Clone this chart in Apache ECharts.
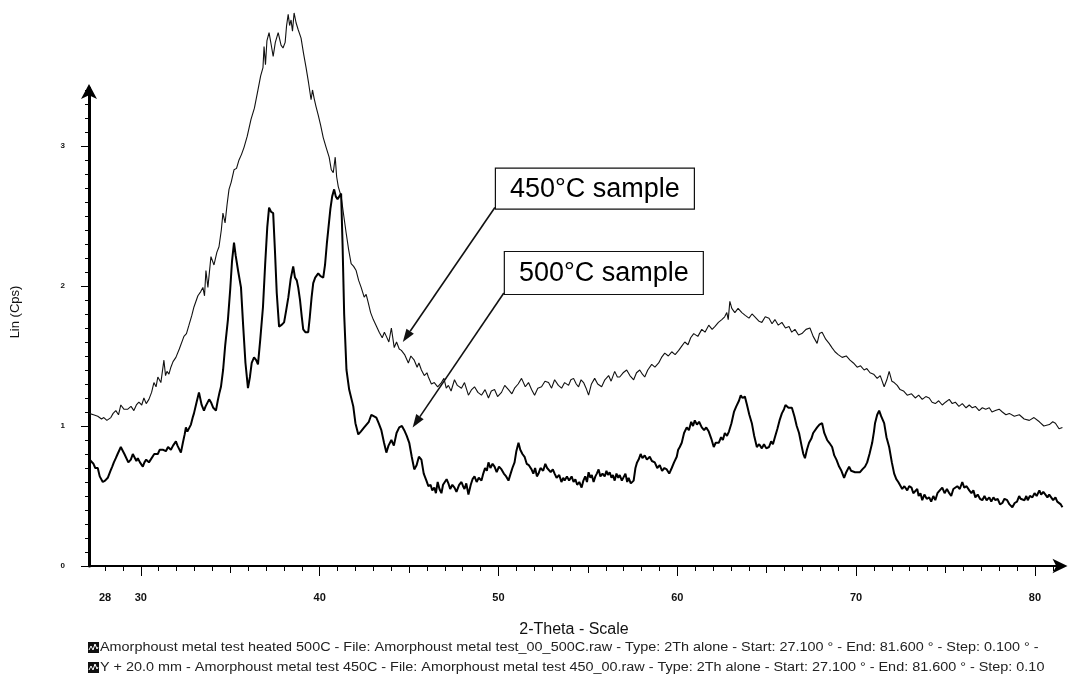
<!DOCTYPE html>
<html>
<head>
<meta charset="utf-8">
<script src="https://cdn.jsdelivr.net/npm/echarts@6/dist/echarts.min.js"></script>
<style>
  html, body { margin: 0; padding: 0; background: #ffffff; }
  #chart { width: 1070px; height: 681px; }
</style>
</head>
<body>
<div id="chart"></div>
<script>
// [2-Theta (deg), intensity] for the sample annealed at 500 °C
const scan500 = [
  [27.1,0.77],[27.2,0.75],[27.35,0.73],[27.45,0.70],[27.59,0.70],[27.7,0.64],[27.87,0.60],[28.0,0.61],[28.15,0.63],[28.3,0.68],
  [28.4,0.71],[28.49,0.74],[28.6,0.77],[28.7,0.80],[28.8,0.81],[28.88,0.85],[29.0,0.82],[29.08,0.80],[29.16,0.79],[29.3,0.74],
  [29.44,0.76],[29.55,0.80],[29.65,0.79],[29.75,0.75],[29.83,0.77],[29.95,0.74],[30.11,0.71],[30.2,0.74],[30.3,0.76],[30.45,0.74],
  [30.55,0.76],[30.65,0.77],[30.75,0.80],[30.84,0.81],[30.95,0.80],[31.05,0.83],[31.12,0.84],[31.25,0.83],[31.4,0.82],[31.52,0.85],
  [31.6,0.84],[31.68,0.83],[31.8,0.86],[31.96,0.89],[32.05,0.86],[32.15,0.85],[32.24,0.81],[32.35,0.88],[32.45,0.94],[32.52,0.99],
  [32.6,0.96],[32.69,0.95],[32.8,1.01],[32.9,1.06],[32.97,1.09],[33.1,1.16],[33.25,1.24],[33.4,1.15],[33.53,1.11],[33.62,1.14],
  [33.72,1.15],[33.82,1.19],[33.92,1.17],[34.05,1.13],[34.2,1.11],[34.3,1.18],[34.4,1.24],[34.48,1.28],[34.6,1.40],[34.72,1.58],
  [34.87,1.76],[35.0,1.98],[35.1,2.18],[35.21,2.31],[35.3,2.22],[35.45,2.10],[35.6,1.99],[35.72,1.72],[35.85,1.45],[35.99,1.27],
  [36.1,1.35],[36.2,1.45],[36.33,1.49],[36.45,1.47],[36.55,1.44],[36.68,1.62],[36.83,1.85],[36.95,2.15],[37.07,2.42],[37.17,2.56],
  [37.28,2.53],[37.4,2.52],[37.5,2.25],[37.6,1.95],[37.73,1.71],[37.85,1.72],[38.01,1.74],[38.12,1.82],[38.25,1.92],[38.38,2.05],
  [38.52,2.14],[38.62,2.06],[38.72,2.04],[38.8,1.99],[38.9,1.90],[39.0,1.78],[39.08,1.69],[39.2,1.67],[39.36,1.67],[39.45,1.78],
  [39.55,1.92],[39.64,2.02],[39.75,2.06],[39.92,2.09],[40.05,2.07],[40.2,2.06],[40.3,2.15],[40.4,2.30],[40.48,2.40],[40.6,2.55],
  [40.7,2.64],[40.81,2.69],[40.9,2.64],[41.0,2.62],[41.1,2.64],[41.2,2.66],[41.28,2.30],[41.37,1.80],[41.5,1.40],[41.65,1.26],
  [41.88,1.14],[42.0,1.02],[42.16,0.94],[42.3,0.96],[42.49,0.99],[42.6,0.98],[42.75,1.03],[42.89,1.08],[43.0,1.09],[43.17,1.06],
  [43.3,1.02],[43.45,0.97],[43.6,0.88],[43.73,0.81],[43.85,0.86],[44.01,0.90],[44.15,0.86],[44.3,0.95],[44.45,0.99],[44.6,1.00],
  [44.73,0.97],[44.87,0.93],[45.01,0.88],[45.15,0.78],[45.29,0.69],[45.42,0.72],[45.55,0.78],[45.69,0.76],[45.82,0.66],[45.97,0.61],
  [46.08,0.57],[46.2,0.58],[46.3,0.54],[46.41,0.56],[46.5,0.52],[46.6,0.60],[46.7,0.55],[46.81,0.52],[46.9,0.58],[47.0,0.57],
  [47.1,0.62],[47.2,0.59],[47.3,0.55],[47.42,0.58],[47.54,0.56],[47.65,0.53],[47.8,0.58],[47.93,0.60],[48.02,0.57],[48.1,0.55],
  [48.2,0.59],[48.32,0.51],[48.45,0.58],[48.55,0.62],[48.66,0.64],[48.78,0.60],[48.9,0.63],[49.05,0.61],[49.15,0.66],[49.25,0.70],
  [49.35,0.68],[49.44,0.74],[49.55,0.70],[49.67,0.73],[49.78,0.71],[49.9,0.67],[50.03,0.71],[50.17,0.69],[50.3,0.66],[50.43,0.64],
  [50.56,0.61],[50.68,0.66],[50.78,0.70],[50.9,0.74],[51.0,0.82],[51.12,0.88],[51.22,0.83],[51.34,0.80],[51.46,0.78],[51.58,0.73],
  [51.7,0.72],[51.85,0.69],[51.95,0.66],[52.05,0.70],[52.15,0.64],[52.24,0.66],[52.35,0.70],[52.5,0.68],[52.62,0.73],[52.72,0.70],
  [52.8,0.71],[52.92,0.67],[53.04,0.69],[53.14,0.66],[53.25,0.63],[53.4,0.65],[53.52,0.60],[53.62,0.63],[53.7,0.61],[53.83,0.64],
  [53.95,0.61],[54.09,0.64],[54.2,0.60],[54.3,0.62],[54.4,0.58],[54.52,0.60],[54.65,0.56],[54.75,0.61],[54.85,0.64],[54.95,0.60],
  [55.04,0.67],[55.14,0.63],[55.22,0.65],[55.32,0.60],[55.42,0.64],[55.5,0.66],[55.6,0.69],[55.7,0.64],[55.82,0.66],[55.94,0.64],
  [56.04,0.68],[56.12,0.65],[56.22,0.67],[56.32,0.63],[56.4,0.65],[56.5,0.61],[56.6,0.66],[56.7,0.63],[56.78,0.65],[56.9,0.61],
  [57.0,0.62],[57.1,0.66],[57.2,0.60],[57.28,0.63],[57.4,0.59],[57.56,0.61],[57.66,0.70],[57.75,0.74],[57.84,0.76],[57.95,0.80],
  [58.05,0.77],[58.18,0.79],[58.3,0.76],[58.46,0.78],[58.58,0.75],[58.74,0.74],[58.88,0.70],[59.02,0.72],[59.15,0.68],[59.28,0.70],
  [59.41,0.69],[59.55,0.66],[59.69,0.70],[59.82,0.74],[59.97,0.78],[60.05,0.83],[60.14,0.85],[60.25,0.88],[60.38,0.95],[60.53,0.99],
  [60.65,0.97],[60.78,1.03],[60.88,1.00],[60.98,1.04],[61.1,1.01],[61.22,1.03],[61.37,0.99],[61.5,0.97],[61.62,0.99],[61.76,0.96],
  [61.9,0.91],[62.04,0.85],[62.15,0.88],[62.32,0.88],[62.45,0.92],[62.55,0.90],[62.66,0.95],[62.78,0.93],[62.89,0.96],[63.03,1.02],
  [63.17,1.10],[63.3,1.14],[63.45,1.18],[63.55,1.22],[63.65,1.20],[63.78,1.21],[63.9,1.15],[64.03,1.08],[64.17,1.02],[64.3,0.93],
  [64.45,0.85],[64.58,0.87],[64.73,0.84],[64.85,0.87],[64.98,0.84],[65.13,0.85],[65.25,0.89],[65.35,0.87],[65.46,0.92],[65.6,0.98],
  [65.72,1.04],[65.85,1.09],[65.97,1.12],[66.05,1.15],[66.13,1.15],[66.22,1.13],[66.32,1.14],[66.41,1.13],[66.55,1.07],[66.68,1.00],
  [66.81,0.95],[66.95,0.86],[67.05,0.80],[67.14,0.77],[67.25,0.83],[67.37,0.88],[67.5,0.91],[67.6,0.95],[67.7,0.96],[67.82,0.99],
  [67.95,1.01],[68.1,1.02],[68.22,0.95],[68.38,0.90],[68.5,0.88],[68.66,0.85],[68.78,0.79],[68.9,0.76],[69.05,0.71],[69.18,0.68],
  [69.33,0.63],[69.45,0.67],[69.61,0.71],[69.72,0.68],[69.82,0.69],[69.94,0.67],[70.05,0.68],[70.22,0.67],[70.35,0.69],[70.5,0.71],
  [70.62,0.74],[70.75,0.80],[70.9,0.88],[71.0,0.96],[71.06,1.02],[71.18,1.08],[71.29,1.11],[71.4,1.07],[71.57,1.02],[71.7,0.92],
  [71.85,0.85],[72.0,0.74],[72.13,0.66],[72.25,0.62],[72.36,0.60],[72.46,0.59],[72.58,0.55],[72.7,0.57],[72.86,0.54],[72.97,0.57],
  [73.1,0.56],[73.2,0.52],[73.31,0.52],[73.42,0.55],[73.5,0.50],[73.6,0.52],[73.7,0.47],[73.82,0.51],[73.95,0.48],[74.09,0.49],
  [74.2,0.46],[74.32,0.50],[74.43,0.47],[74.55,0.52],[74.68,0.54],[74.82,0.56],[74.95,0.52],[75.08,0.55],[75.21,0.52],[75.32,0.50],
  [75.44,0.55],[75.55,0.54],[75.66,0.57],[75.8,0.55],[75.94,0.60],[76.05,0.56],[76.18,0.57],[76.33,0.54],[76.45,0.52],[76.56,0.54],
  [76.67,0.49],[76.8,0.51],[76.93,0.48],[77.06,0.47],[77.18,0.50],[77.3,0.47],[77.45,0.49],[77.56,0.46],[77.68,0.49],[77.79,0.47],
  [77.92,0.48],[78.05,0.44],[78.18,0.45],[78.3,0.48],[78.45,0.47],[78.58,0.44],[78.74,0.42],[78.87,0.45],[79.0,0.46],[79.12,0.50],
  [79.2,0.48],[79.3,0.49],[79.42,0.47],[79.52,0.50],[79.6,0.47],[79.72,0.50],[79.86,0.49],[79.98,0.52],[80.1,0.50],[80.25,0.54],
  [80.35,0.51],[80.47,0.53],[80.59,0.51],[80.7,0.49],[80.8,0.51],[80.9,0.50],[81.02,0.47],[81.15,0.49],[81.25,0.46],[81.35,0.47],
  [81.45,0.44],[81.54,0.42]
];

// [2-Theta (deg), intensity] for the sample annealed at 450 °C
const scan450 = [
  [27.1,1.09],[27.35,1.08],[27.59,1.07],[27.8,1.05],[27.93,1.06],[28.1,1.04],[28.32,1.06],[28.45,1.09],[28.6,1.11],[28.75,1.08],
  [28.88,1.15],[29.05,1.12],[29.27,1.12],[29.45,1.14],[29.61,1.11],[29.75,1.15],[29.89,1.17],[30.05,1.15],[30.17,1.20],[30.3,1.16],
  [30.45,1.19],[30.6,1.24],[30.73,1.31],[30.85,1.28],[30.95,1.35],[31.12,1.31],[31.29,1.47],[31.38,1.36],[31.46,1.39],[31.57,1.37],
  [31.68,1.42],[31.8,1.46],[31.96,1.49],[32.15,1.55],[32.41,1.64],[32.55,1.66],[32.69,1.72],[32.85,1.79],[32.97,1.85],[33.19,1.93],
  [33.35,1.96],[33.47,1.99],[33.56,1.93],[33.64,2.11],[33.75,1.99],[33.92,2.21],[34.09,2.15],[34.25,2.24],[34.37,2.28],[34.5,2.40],
  [34.59,2.52],[34.71,2.45],[34.82,2.58],[34.93,2.69],[35.05,2.74],[35.21,2.83],[35.35,2.84],[35.49,2.90],[35.63,2.94],[35.77,2.99],
  [35.95,3.07],[36.16,3.19],[36.35,3.27],[36.55,3.40],[36.7,3.50],[36.83,3.56],[36.89,3.71],[36.97,3.58],[37.05,3.75],[37.17,3.81],
  [37.28,3.73],[37.4,3.64],[37.52,3.74],[37.68,3.81],[37.84,3.72],[37.95,3.70],[38.07,3.74],[38.15,3.86],[38.24,3.94],[38.32,3.86],
  [38.4,3.90],[38.48,3.82],[38.57,3.95],[38.68,3.88],[38.8,3.83],[38.96,3.77],[39.1,3.66],[39.24,3.56],[39.38,3.45],[39.52,3.33],
  [39.6,3.40],[39.69,3.34],[39.8,3.28],[39.92,3.22],[40.05,3.15],[40.2,3.06],[40.36,2.99],[40.53,2.92],[40.65,2.83],[40.76,2.81],
  [40.87,2.92],[40.95,2.78],[41.04,2.71],[41.2,2.64],[41.35,2.50],[41.48,2.38],[41.62,2.26],[41.76,2.16],[41.9,2.14],[42.04,2.11],
  [42.18,2.04],[42.32,1.99],[42.49,1.92],[42.6,1.94],[42.72,1.88],[42.85,1.81],[43.0,1.76],[43.15,1.72],[43.33,1.67],[43.5,1.63],
  [43.62,1.67],[43.73,1.64],[43.87,1.60],[44.01,1.70],[44.17,1.56],[44.3,1.60],[44.45,1.55],[44.57,1.54],[44.75,1.51],[44.96,1.45],
  [45.1,1.50],[45.29,1.47],[45.45,1.42],[45.55,1.45],[45.69,1.40],[45.85,1.36],[46.0,1.38],[46.08,1.35],[46.25,1.30],[46.41,1.31],
  [46.6,1.28],[46.81,1.31],[46.95,1.34],[47.08,1.27],[47.2,1.29],[47.35,1.25],[47.54,1.33],[47.7,1.29],[47.93,1.27],[48.1,1.31],
  [48.32,1.22],[48.5,1.26],[48.66,1.28],[48.85,1.24],[49.05,1.22],[49.25,1.26],[49.44,1.20],[49.6,1.25],[49.78,1.26],[49.95,1.21],
  [50.17,1.24],[50.35,1.29],[50.56,1.26],[50.75,1.23],[50.9,1.27],[51.1,1.30],[51.29,1.34],[51.5,1.28],[51.68,1.31],[51.85,1.26],
  [52.02,1.22],[52.2,1.27],[52.41,1.28],[52.6,1.32],[52.8,1.31],[52.97,1.27],[53.14,1.33],[53.35,1.29],[53.53,1.27],[53.7,1.31],
  [53.92,1.29],[54.05,1.33],[54.2,1.34],[54.35,1.30],[54.48,1.28],[54.62,1.33],[54.76,1.31],[54.9,1.27],[55.04,1.22],[55.2,1.30],
  [55.38,1.34],[55.55,1.30],[55.77,1.28],[55.95,1.33],[56.16,1.36],[56.3,1.32],[56.5,1.39],[56.65,1.35],[56.78,1.35],[56.97,1.38],
  [57.17,1.40],[57.35,1.36],[57.56,1.33],[57.72,1.38],[57.9,1.40],[58.05,1.37],[58.18,1.35],[58.35,1.40],[58.57,1.44],[58.75,1.42],
  [58.96,1.45],[59.12,1.49],[59.3,1.52],[59.5,1.50],[59.69,1.53],[59.88,1.51],[60.08,1.54],[60.25,1.57],[60.42,1.60],[60.6,1.58],
  [60.75,1.63],[60.92,1.66],[61.15,1.64],[61.37,1.69],[61.55,1.67],[61.76,1.72],[61.95,1.69],[62.1,1.71],[62.3,1.74],[62.49,1.76],
  [62.65,1.78],[62.77,1.81],[62.85,1.76],[62.94,1.89],[63.05,1.84],[63.22,1.81],[63.4,1.84],[63.61,1.81],[63.8,1.79],[64.01,1.77],
  [64.18,1.80],[64.34,1.78],[64.55,1.75],[64.73,1.74],[64.92,1.78],[65.13,1.77],[65.3,1.73],[65.46,1.76],[65.65,1.72],[65.85,1.74],
  [66.05,1.70],[66.25,1.71],[66.4,1.67],[66.58,1.69],[66.78,1.65],[66.97,1.66],[67.2,1.69],[67.42,1.70],[67.6,1.64],[67.82,1.59],
  [67.95,1.66],[68.1,1.67],[68.3,1.62],[68.49,1.59],[68.65,1.56],[68.82,1.53],[69.0,1.51],[69.22,1.49],[69.45,1.50],[69.66,1.47],
  [69.85,1.45],[70.06,1.42],[70.25,1.43],[70.45,1.40],[70.6,1.41],[70.78,1.38],[70.98,1.37],[71.18,1.34],[71.35,1.36],[71.57,1.28],
  [71.72,1.33],[71.85,1.39],[72.0,1.32],[72.13,1.31],[72.3,1.29],[72.46,1.26],[72.65,1.25],[72.86,1.22],[73.1,1.23],[73.31,1.20],
  [73.5,1.22],[73.7,1.19],[73.9,1.21],[74.09,1.20],[74.25,1.17],[74.43,1.16],[74.62,1.18],[74.82,1.15],[75.0,1.17],[75.21,1.19],
  [75.38,1.16],[75.55,1.17],[75.75,1.14],[75.94,1.16],[76.15,1.13],[76.33,1.15],[76.5,1.13],[76.67,1.14],[76.88,1.11],[77.06,1.13],
  [77.25,1.12],[77.45,1.13],[77.6,1.10],[77.79,1.11],[78.0,1.12],[78.18,1.10],[78.38,1.08],[78.57,1.09],[78.85,1.07],[79.13,1.08],
  [79.4,1.05],[79.69,1.04],[79.95,1.06],[80.25,1.03],[80.5,1.00],[80.81,1.01],[81.0,1.03],[81.15,1.02],[81.35,0.98],[81.54,0.99]
];

// Axis tick labels
const xTickLabels = [28, 30, 40, 50, 60, 70, 80];
const yTickLabels = [0, 1, 2, 3];

// Scan descriptions printed under the axis
const scanLines = [
  'Amorphoust metal test heated 500C - File: Amorphoust metal test_00_500C.raw - Type: 2Th alone - Start: 27.100 \u00b0 - End: 81.600 \u00b0 - Step: 0.100 \u00b0 -',
  'Y + 20.0 mm - Amorphoust metal test 450C - File: Amorphoust metal test 450_00.raw - Type: 2Th alone - Start: 27.100 \u00b0 - End: 81.600 \u00b0 - Step: 0.10'
];

// Call-out labels: text, where the leader line starts and where it points (data units)
const noteText = ['450\u00b0C sample', '500\u00b0C sample'];
const noteTail = [[49.8, 2.56], [50.3, 1.95]];
const noteTip = [[44.65, 1.60], [45.2, 0.99]];

const X_MIN = 27.1, X_MAX = 81.6, Y_MAX = 3.414;
const FONT = '"Liberation Sans", Arial, sans-serif';

const range = (a, b, step) => { const out = []; for (let v = a; v <= b + 1e-9; v += step) out.push(+v.toFixed(2)); return out; };

const chart = echarts.init(document.getElementById('chart'), null, { renderer: 'canvas' });

// Extra tick-only x axes give the 5° and 10° marks their longer ticks
const tickAxis = (values, len) => ({
  type: 'value', min: X_MIN, max: X_MAX, position: 'bottom',
  axisLine: { show: false },
  axisTick: { show: true, customValues: values, length: len, lineStyle: { color: '#000', width: 1 } },
  axisLabel: { show: false }, splitLine: { show: false }
});

chart.setOption({
  animation: false,
  backgroundColor: '#ffffff',
  grid: { left: 89, right: 6.5, top: 88, bottom: 115 },
  xAxis: [
    {
      type: 'value', min: X_MIN, max: X_MAX, position: 'bottom',
      axisLine: { show: true, lineStyle: { color: '#000', width: 2 }, symbol: ['none', 'arrow'], symbolSize: [11, 15], symbolOffset: [0, 4] },
      axisTick: { show: true, customValues: range(28, 81, 1), length: 5, lineStyle: { color: '#000', width: 1 } },
      axisLabel: { customValues: xTickLabels, margin: 26, fontSize: 11, fontWeight: 'bold', color: '#111', fontFamily: FONT },
      splitLine: { show: false }
    },
    tickAxis(range(30, 80, 5), 7),
    tickAxis(range(30, 80, 10), 10)
  ],
  yAxis: [
    {
      type: 'value', min: 0, max: Y_MAX, position: 'left',
      axisLine: { show: true, lineStyle: { color: '#000', width: 3 }, symbol: ['none', 'arrow'], symbolSize: [12, 15], symbolOffset: [0, 4] },
      axisTick: { show: true, customValues: yTickLabels, length: 8, lineStyle: { color: '#000', width: 1 } },
      axisLabel: { customValues: yTickLabels, margin: 24, fontSize: 8, fontWeight: 'bold', color: '#111', fontFamily: FONT },
      splitLine: { show: false }
    },
    {
      type: 'value', min: 0, max: Y_MAX, position: 'left',
      axisLine: { show: false },
      axisTick: { show: true, customValues: range(0, 3.4, 0.1), length: 4, lineStyle: { color: '#000', width: 1 } },
      axisLabel: { show: false }, splitLine: { show: false }
    }
  ],
  series: [
    {
      name: '450C', type: 'line', xAxisIndex: 0, yAxisIndex: 0,
      data: scan450, showSymbol: false, clip: false,
      lineStyle: { color: '#111', width: 1.1 }
    },
    {
      name: '500C', type: 'line', xAxisIndex: 0, yAxisIndex: 0,
      data: scan500, showSymbol: false, clip: false,
      lineStyle: { color: '#000', width: 2 }
    }
  ]
});

// Page furniture: axis titles, scan descriptions and call-outs
const toPx = (p) => chart.convertToPixel({ xAxisIndex: 0, yAxisIndex: 0 }, p);

function legendIcon(x, y) {
  return {
    type: 'group', x: x, y: y,
    children: [
      { type: 'rect', shape: { x: 0, y: 0, width: 11, height: 11 }, style: { fill: '#111' } },
      { type: 'polyline', shape: { points: [[1, 8], [3, 4], [5, 8], [7, 2], [9, 7], [10, 5]] }, style: { stroke: '#fff', lineWidth: 1, fill: null } }
    ]
  };
}

function callout(i) {
  const tail = toPx(noteTail[i]);
  const tip = toPx(noteTip[i]);
  const boxW = 199, boxH = i === 0 ? 41 : 43;
  const dx = tip[0] - tail[0], dy = tip[1] - tail[1];
  const len = Math.hypot(dx, dy), ux = dx / len, uy = dy / len;
  const headL = 13, headW = 4.5;
  const bx = tip[0] - ux * headL, by = tip[1] - uy * headL;
  return [
    { type: 'line', shape: { x1: tail[0], y1: tail[1], x2: bx, y2: by }, style: { stroke: '#111', lineWidth: 1.6 }, z: 10 },
    { type: 'polygon', shape: { points: [[tip[0], tip[1]], [bx - uy * headW, by + ux * headW], [bx + uy * headW, by - ux * headW]] }, style: { fill: '#111' }, z: 10 },
    { type: 'rect', shape: { x: tail[0] + 0.5, y: tail[1] - boxH + 1.5, width: boxW, height: boxH }, style: { fill: '#fff', stroke: '#111', lineWidth: 1.2 }, z: 11 },
    { type: 'text', x: tail[0] + 0.5 + boxW / 2, y: tail[1] - boxH / 2 + 2, style: { text: noteText[i], font: '27px ' + FONT, fill: '#000', align: 'center', verticalAlign: 'middle' }, z: 12 }
  ];
}

const scanText = (text, y) => ({
  type: 'text', x: 100, y: y, scaleX: 1.2,
  style: { text: text, font: '12px ' + FONT, fill: '#222', align: 'left', verticalAlign: 'middle' }
});

chart.setOption({
  graphic: [
    { type: 'text', x: 15, y: 312, rotation: Math.PI / 2, style: { text: 'Lin (Cps)', font: '13px ' + FONT, fill: '#111', align: 'center', verticalAlign: 'middle' } },
    { type: 'text', x: 574, y: 630, style: { text: '2-Theta - Scale', font: '16px ' + FONT, fill: '#111', align: 'center', verticalAlign: 'middle' } },
    legendIcon(88, 642),
    scanText(scanLines[0], 648),
    legendIcon(88, 662),
    scanText(scanLines[1], 668)
  ].concat(callout(0), callout(1))
});
</script>
</body>
</html>
